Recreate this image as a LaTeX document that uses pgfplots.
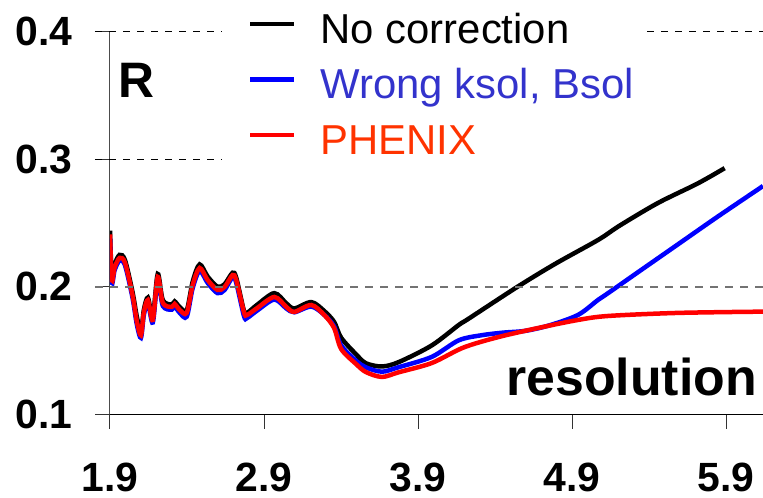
\documentclass[border=0pt]{standalone}
\usepackage{fontspec}
\setmainfont{Liberation Sans}
\usepackage{pgfplots}
\pgfplotsset{compat=1.18}
\definecolor{legblue}{HTML}{3333CC}
\definecolor{legred}{HTML}{FF3300}
\begin{document}
\begin{tikzpicture}
\begin{axis}[
  name=ax,
  scale only axis,
  width=653bp, height=382.6bp,
  xmin=1.9, xmax=6.14, ymin=0.1, ymax=0.4,
  axis x line=bottom, axis y line=left,
  axis line style={-, line width=1bp},
  x axis line style={black},
  y axis line style={black!70},
  xtick={1.9,2.9,3.9,4.9,5.9},
  ytick={0.1,0.2,0.3,0.4},
  tick align=outside,
  major tick length=14.5bp,
  tick style={line width=1bp, black!80},
  /pgf/number format/assume math mode=true,
  /pgf/number format/fixed, /pgf/number format/precision=1, /pgf/number format/fixed zerofill,
  ticklabel style={font=\fontsize{41}{41}\selectfont\bfseries, inner sep=0pt},
  yticklabel style={anchor=east, xshift=-23bp},
  xticklabel style={anchor=north, yshift=-34bp},
  clip=true,
  legend style={at={(0.2113,1.075)}, anchor=north west, draw=none, fill=none,
    font=\fontsize{42}{42}\selectfont, inner sep=0pt, row sep=13.5bp,
    nodes={inner sep=0pt, text height=40bp, text depth=2bp}},
  legend cell align=left,
  legend image code/.code={\draw[#1, line width=4.5bp] (0,0) -- (44bp,0); \path (68bp,0);},
]
\addplot[black, line width=4.5bp, smooth, tension=0.5] coordinates {
(1.900,0.2440) (1.912,0.2070) (1.930,0.2175) (1.962,0.2250) (1.997,0.2210)
(2.046,0.1960) (2.075,0.1760) (2.101,0.1650) (2.120,0.1820) (2.146,0.1915)
(2.178,0.1765) (2.210,0.2100) (2.243,0.1895) (2.301,0.1860) (2.320,0.1885)
(2.353,0.1840) (2.398,0.1815) (2.437,0.2040) (2.482,0.2175) (2.534,0.2080)
(2.598,0.2000) (2.644,0.2020) (2.696,0.2110) (2.720,0.2070) (2.770,0.1810)
(2.790,0.1795) (2.857,0.1860) (2.967,0.1950) (3.045,0.1870) (3.097,0.1830)
(3.207,0.1880) (3.291,0.1810) (3.355,0.1725) (3.401,0.1600) (3.498,0.1470)
(3.562,0.1400) (3.666,0.1375) (3.776,0.1410) (3.989,0.1540) (4.164,0.1700)
(4.229,0.1750) (4.546,0.2000) (4.791,0.2180) (5.069,0.2367)
(5.210,0.2480) (5.458,0.2657) (5.716,0.2810) (5.891,0.2930)
};
\addlegendentry{No correction}
\addplot[blue, line width=4.5bp, smooth, tension=0.5] coordinates {
(1.900,0.2380) (1.912,0.2030) (1.930,0.2130) (1.962,0.2205) (1.997,0.2170)
(2.046,0.1915) (2.075,0.1700) (2.101,0.1600) (2.120,0.1780) (2.146,0.1875)
(2.178,0.1720) (2.210,0.2055) (2.243,0.1850) (2.301,0.1820) (2.320,0.1845)
(2.353,0.1795) (2.398,0.1765) (2.437,0.1990) (2.482,0.2125) (2.534,0.2030)
(2.598,0.1950) (2.644,0.1975) (2.696,0.2075) (2.720,0.2030) (2.770,0.1770)
(2.790,0.1755) (2.857,0.1815) (2.967,0.1900) (3.045,0.1830) (3.097,0.1800)
(3.207,0.1845) (3.291,0.1780) (3.355,0.1690) (3.401,0.1540) (3.498,0.1420)
(3.562,0.1368) (3.666,0.1334) (3.776,0.1370) (3.989,0.1450) (4.164,0.1580)
(4.313,0.1620) (4.450,0.1640) (4.600,0.1655) (4.760,0.1700) (4.940,0.1780)
(5.069,0.1897) (5.134,0.1950) (5.328,0.2114) (5.587,0.2332) (5.846,0.2550)
(6.140,0.2790)
};
\addlegendentry{\textcolor{legblue}{Wrong ksol, Bsol}}
\addplot[red, line width=4.5bp, smooth, tension=0.5] coordinates {
(1.900,0.2410) (1.912,0.2050) (1.930,0.2150) (1.962,0.2226) (1.997,0.2190)
(2.046,0.1936) (2.075,0.1724) (2.101,0.1620) (2.120,0.1800) (2.146,0.1896)
(2.178,0.1740) (2.210,0.2077) (2.243,0.1873) (2.301,0.1842) (2.320,0.1865)
(2.353,0.1818) (2.398,0.1795) (2.437,0.2014) (2.482,0.2147) (2.534,0.2053)
(2.598,0.1975) (2.644,0.1998) (2.696,0.2092) (2.720,0.2050) (2.770,0.1800)
(2.790,0.1779) (2.857,0.1834) (2.967,0.1920) (3.045,0.1842) (3.097,0.1803)
(3.207,0.1857) (3.291,0.1779) (3.355,0.1677) (3.401,0.1512) (3.498,0.1394)
(3.562,0.1331) (3.666,0.1293) (3.776,0.1330) (3.989,0.1402) (4.196,0.1524)
(4.423,0.1606) (4.681,0.1677) (4.940,0.1740) (5.134,0.1771) (5.587,0.1795)
(6.140,0.1805)
};
\addlegendentry{\textcolor{legred}{PHENIX}}
\end{axis}
\begin{scope}[shift={(ax.south west)}]
  \draw[black, line width=1bp, dash pattern=on 7bp off 7bp] (-15bp,382.6bp) -- (112bp,382.6bp);
  \draw[black, line width=1bp, dash pattern=on 7bp off 7bp] (537bp,382.6bp) -- (653bp,382.6bp);
  \draw[black, line width=1bp, dash pattern=on 7bp off 7bp] (-15bp,255.1bp) -- (112bp,255.1bp);
  \draw[black!55, line width=1.5bp, dash pattern=on 8bp off 7bp] (-15bp,127.5bp) -- (653bp,127.5bp);
  \node[anchor=base west, inner sep=0pt, font=\fontsize{50}{50}\selectfont\bfseries] at (8bp,316.3bp) {R};
  \node[anchor=base east, inner sep=0pt, font=\fontsize{52}{52}\selectfont\bfseries] at (647bp,19.3bp) {resolution};
\end{scope}
\pgfresetboundingbox
\path[use as bounding box] ([shift={(-110bp,-83.7bp)}]ax.south west) rectangle ([shift={(653bp,414.3bp)}]ax.south west);
\end{tikzpicture}
\end{document}
